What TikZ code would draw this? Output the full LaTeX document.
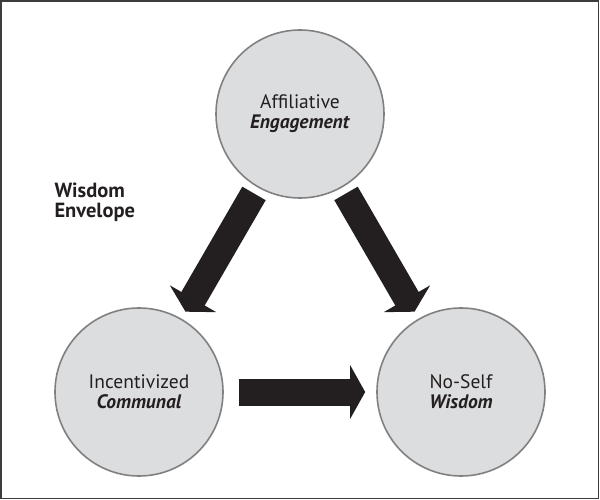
\documentclass[tikz,border=0pt]{standalone}
\usepackage{fontspec}
\setmainfont{PT Sans}
\usetikzlibrary{arrows.meta}
\definecolor{disc}{RGB}{220,221,223}
\definecolor{rim}{RGB}{128,128,128}
\definecolor{ink}{RGB}{35,31,32}
\definecolor{edge}{RGB}{60,60,60}
\begin{document}
\begin{tikzpicture}[x=1pt,y=-1pt,
  stage/.style={circle,draw=rim,line width=1.6pt,fill=disc,minimum size=168pt,inner sep=0pt,
    align=center,text=ink,font=\fontsize{19.5}{20}\selectfont},
  bigarrow/.style={draw=ink,line width=27pt,-{Triangle[length=15pt,width=53pt]}}]
\useasboundingbox (0,0) rectangle (600,500);
\draw[edge,line width=1.5pt] (0.8,0.8) rectangle (598.6,498.6);
\node[stage] (eng) at (300,114) {Affiliative\\\textbf{\textit{Engagement}}};
\node[stage] (comm) at (139,392) {Incentivized\\\textbf{\textit{Communal}}};
\node[stage] (wis) at (461,392) {No-Self\\\textbf{\textit{Wisdom}}};
\node[anchor=west,align=left,text=ink,font=\fontsize{20.5}{20}\selectfont\bfseries] (env) at (51,202) {Wisdom\\Envelope};
\draw[bigarrow,shorten <=7pt,shorten >=8pt] (eng) -- (comm);
\draw[bigarrow,shorten <=7pt,shorten >=8pt] (eng) -- (wis);
\draw[bigarrow,shorten <=15pt,shorten >=11pt] (comm) -- (wis);
\end{tikzpicture}
\end{document}
